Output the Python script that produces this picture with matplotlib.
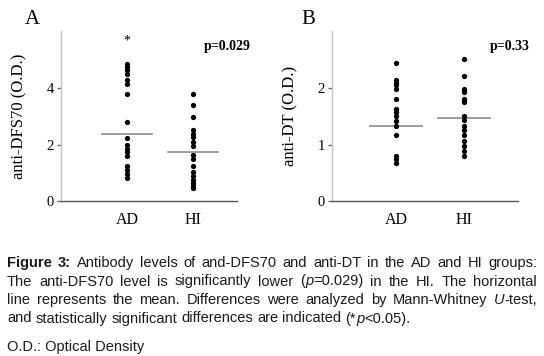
import matplotlib
matplotlib.use("Agg")
import matplotlib.pyplot as plt

# ---- data ----
groups = ["AD", "HI"]
dfs70_AD = [4.82, 4.72, 4.62, 4.5, 4.28, 4.15, 3.78, 2.8, 2.22, 1.98, 1.85, 1.72, 1.6, 1.25, 1.1, 0.95, 0.82]
dfs70_HI = [3.79, 3.41, 2.97, 2.5, 2.37, 2.28, 2.1, 1.95, 1.62, 1.5, 1.25, 1.02, 0.88, 0.75, 0.65, 0.55, 0.47]
dfs70_means = [2.37, 1.72]
dt_AD = [2.43, 2.14, 2.09, 2.04, 1.98, 1.81, 1.63, 1.57, 1.50, 1.41, 1.33, 1.17, 0.80, 0.74, 0.67]
dt_HI = [2.51, 2.21, 1.98, 1.92, 1.81, 1.75, 1.50, 1.43, 1.33, 1.25, 1.16, 1.06, 0.97, 0.88, 0.79]
dt_means = [1.32, 1.47]
yticks_A = [0, 2, 4]
yticks_B = [0, 1, 2]

SERIF = ["Liberation Serif", "DejaVu Serif"]
SANS = ["Liberation Sans", "DejaVu Sans"]

W, H = 544, 356
fig = plt.figure(figsize=(W / 100, H / 100), dpi=100)


def px_axes(l, t, r, b):
    return fig.add_axes([l / W, 1 - b / H, (r - l) / W, (b - t) / H])


def panel(ax, data, means, ylim, xlim, yticks, ylabel):
    for i, vals in enumerate(data):
        ax.plot([i + 1] * len(vals), vals, "o", color="black", markersize=3.8,
                markeredgewidth=0, clip_on=False, zorder=3)
        ax.plot([i + 1 - 0.38, i + 1 + 0.38], [means[i], means[i]], color="#8c8c8c",
                lw=1.2, zorder=2)
    ax.set_xlim(*xlim)
    ax.set_ylim(*ylim)
    ax.set_yticks(yticks)
    ax.set_yticklabels([str(v) for v in yticks], fontfamily=SERIF, fontsize=10.5)
    ax.set_xticks([1, 2])
    ax.set_xticklabels(groups, fontfamily=SERIF, fontsize=11.5)
    ax.tick_params(axis="x", length=0, pad=8)
    ax.tick_params(axis="y", length=3, width=1, color="#666666", pad=2)
    for s in ("top", "right"):
        ax.spines[s].set_visible(False)
    ax.spines["left"].set_color("#c4c4c4")
    ax.spines["left"].set_linewidth(1.0)
    ax.spines["bottom"].set_color("#555555")
    ax.spines["bottom"].set_linewidth(1.0)
    ax.set_ylabel(ylabel, fontfamily=SERIF, fontsize=12, labelpad=14)
    ax.patch.set_alpha(0)


axA = px_axes(61, 31, 237, 201.3)
panel(axA, [dfs70_AD, dfs70_HI], dfs70_means, (0, 6), (0.0, 2.67), yticks_A, "anti-DFS70 (O.D.)")
axB = px_axes(331.7, 31, 518, 201.3)
panel(axB, [dt_AD, dt_HI], dt_means, (0, 3), (0.05, 2.8), yticks_B, "anti-DT (O.D.)")

fig.text(25 / W, 1 - 24 / H, "A", fontfamily=SERIF, fontsize=15, ha="left", va="baseline")
fig.text(301 / W, 1 - 24 / H, "B", fontfamily=SERIF, fontsize=15, ha="left", va="baseline")
fig.text(251 / W, 1 - 50 / H, "p=0.029", fontfamily=SERIF, fontsize=10, fontweight="bold",
         ha="right", va="baseline")
fig.text(530 / W, 1 - 50 / H, "p=0.33", fontfamily=SERIF, fontsize=10, fontweight="bold",
         ha="right", va="baseline")
axA.text(1, 5.65, "*", fontfamily=SERIF, fontsize=10, ha="center", va="center")

# ---- caption with justified lines ----
R = "r"
B_ = "b"
I_ = "i"
caption_lines = [
    ([[("Figure", B_)], [("3:", B_)], [("Antibody", R)], [("levels", R)], [("of", R)], [("and-DFS70", R)],
      [("and", R)], [("anti-DT", R)], [("in", R)], [("the", R)], [("AD", R)], [("and", R)], [("HI", R)],
      [("groups:", R)]], True),
    ([[("The", R)], [("anti-DFS70", R)], [("level", R)], [("is", R)], [("significantly", R)], [("lower", R)],
      [("(", R), ("p", I_), ("=0.029)", R)], [("in", R)], [("the", R)], [("HI.", R)], [("The", R)],
      [("horizontal", R)]], True),
    ([[("line", R)], [("represents", R)], [("the", R)], [("mean.", R)], [("Differences", R)], [("were", R)],
      [("analyzed", R)], [("by", R)], [("Mann-Whitney", R)], [("U", I_), ("-test,", R)]], True),
    ([[("and", R)], [("statistically", R)], [("significant", R)], [("differences", R)], [("are", R)],
      [("indicated", R)], [("(*", R), ("p", I_), ("<0.05).", R)]], False),
]
baselines = [267, 285.5, 304, 322.5]
x0, x1 = 7, 537
fs = 10.5
renderer = fig.canvas.get_renderer()


def make(txt, style, x, y):
    kw = dict(fontfamily=SANS, fontsize=fs, va="baseline", ha="left", color="#1a1a1a")
    if style == B_:
        kw["fontweight"] = "bold"
    if style == I_:
        kw["fontstyle"] = "italic"
    return fig.text(x / W, 1 - y / H, txt, **kw)


def width_of(t):
    bb = t.get_window_extent(renderer)
    return bb.width


space_t = make("a a", R, 0, 0)
w_aa = width_of(space_t)
space_t.remove()
a_t = make("aa", R, 0, 0)
w_space = w_aa - width_of(a_t)
a_t.remove()

for (words, justify), yb in zip(caption_lines, baselines):
    artists = []
    widths = []
    for word in words:
        segs = []
        wsum = 0
        for txt, st in word:
            t = make(txt, st, 0, yb)
            w = width_of(t)
            segs.append((t, w))
            wsum += w
        artists.append(segs)
        widths.append(wsum)
    total = sum(widths)
    if justify and len(words) > 1:
        gap = (x1 - x0 - total) / (len(words) - 1)
    else:
        gap = w_space
    x = x0
    for segs, wsum in zip(artists, widths):
        xx = x
        for t, w in segs:
            t.set_x(xx / W)
            xx += w
        x += wsum + gap

make("O.D.: Optical Density", R, x0, 351)

fig.savefig("out.png", dpi=100)
